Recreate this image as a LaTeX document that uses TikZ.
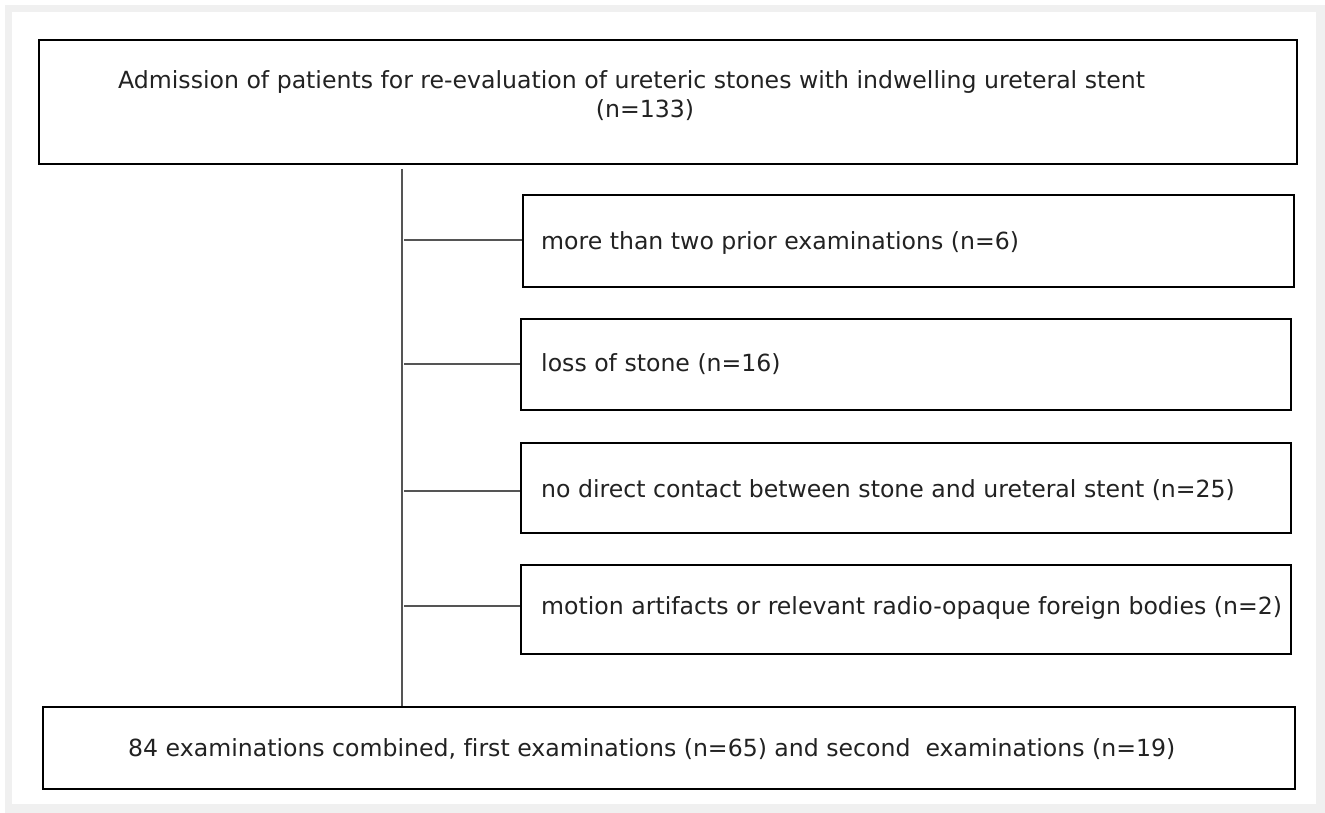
\documentclass[tikz,border=0pt]{standalone}
\usepackage{fontspec}
\setmainfont[Ligatures=NoCommon]{DejaVu Sans}
\definecolor{framegray}{HTML}{F0F0F0}
\definecolor{txt}{HTML}{222222}
\definecolor{linegray}{HTML}{555555}
\begin{document}
\begin{tikzpicture}[x=1pt,y=-1pt,
  box/.style={draw=black,line width=2.8pt},
  conn/.style={draw=linegray,line width=1.4pt},
  lbl/.style={text=txt,font=\fontsize{23.6}{28}\selectfont,inner sep=0pt}]
\useasboundingbox (0,0) rectangle (1325,813);
\fill[white] (0,0) rectangle (1325,813);
\fill[framegray] (5,5) rectangle (1325,813);
\fill[white] (12,12) rectangle (1316,804);
% boxes
\draw[box] (39,40) rectangle (1297,164);
\draw[box] (523,195) rectangle (1294,287);
\draw[box] (521,319) rectangle (1291,410);
\draw[box] (521,443) rectangle (1291,533);
\draw[box] (521,565) rectangle (1291,654);
\draw[box] (43,707) rectangle (1295,789);
% named anchors
\coordinate (vtop) at (402,169);
\coordinate (vbot) at (402,706);
\coordinate (h1a) at (404,240); \coordinate (h1b) at (522,240);
\coordinate (h2a) at (404,364); \coordinate (h2b) at (520,364);
\coordinate (h3a) at (404,491); \coordinate (h3b) at (520,491);
\coordinate (h4a) at (404,606); \coordinate (h4b) at (520,606);
\draw[conn] (vtop) -- (vbot);
\draw[conn] (h1a) -- (h1b);
\draw[conn] (h2a) -- (h2b);
\draw[conn] (h3a) -- (h3b);
\draw[conn] (h4a) -- (h4b);
% texts
\node[lbl,anchor=base west] (t0) at (118,89) {Admission of patients for re-evaluation of ureteric stones with indwelling ureteral stent};
\node[lbl,anchor=base] (t0b) at (645,118) {(n=133)};
\node[lbl,anchor=base west] (t1) at (541,249) {more than two prior examinations (n=6)};
\node[lbl,anchor=base west] (t2) at (541,371) {loss of stone (n=16)};
\node[lbl,anchor=base west] (t3) at (541,497) {no direct contact between stone and ureteral stent (n=25)};
\node[lbl,anchor=base west] (t4) at (541,614) {motion artifacts or relevant radio-opaque foreign bodies (n=2)};
\node[lbl,anchor=base west] (t5) at (128,756) {84 examinations combined, first examinations (n=65) and second\ \ examinations (n=19)};
\end{tikzpicture}
\end{document}
